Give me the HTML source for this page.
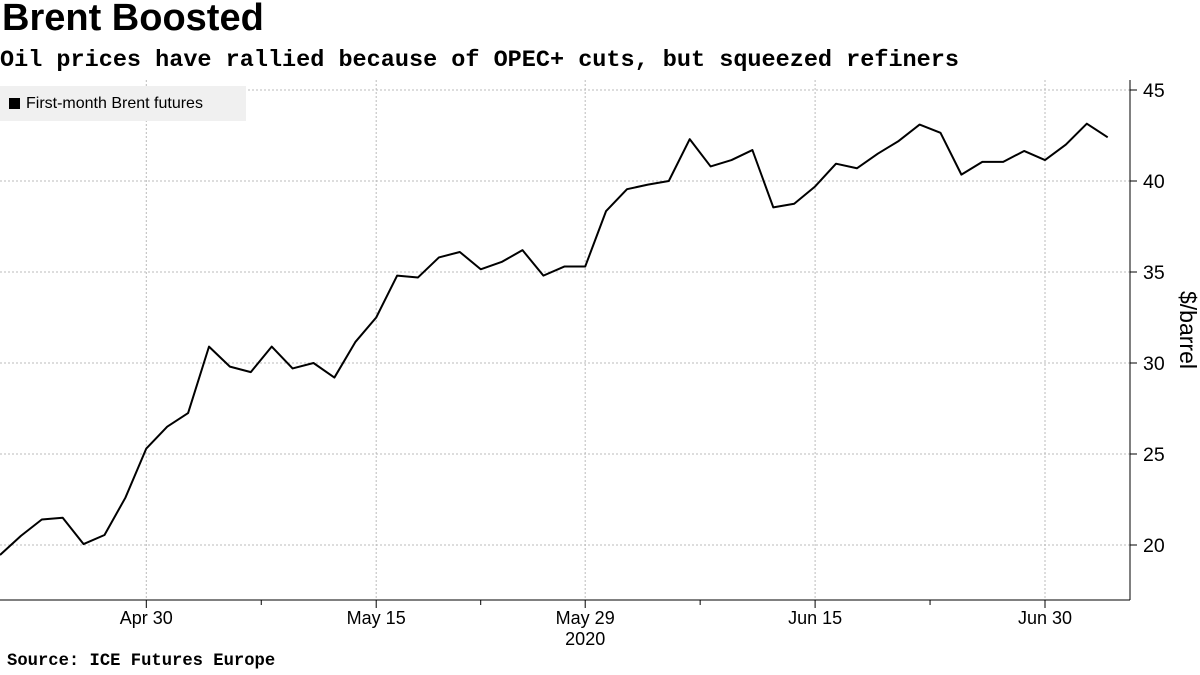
<!DOCTYPE html>
<html><head><meta charset="utf-8"><style>
body{margin:0;background:#fff;width:1200px;height:675px;overflow:hidden;font-family:"Liberation Sans",sans-serif}
#t{position:absolute;left:2px;top:-3px;font-size:38px;font-weight:bold;color:#000}
#s{position:absolute;left:0px;top:47px;font-family:"Liberation Mono",monospace;font-size:23.5px;font-weight:bold}
#src{position:absolute;left:7px;top:652px;font-family:"Liberation Mono",monospace;font-size:17.2px;font-weight:bold}
#leg{position:absolute;left:0;top:86px;width:246px;height:35px;background:#f0f0f0;font-size:16px;line-height:35px}
#leg span.sq{display:inline-block;width:11px;height:11px;background:#000;margin:0 6px 0 9px;vertical-align:-1px}
</style></head><body>
<div id="t">Brent Boosted</div>
<div id="s">Oil prices have rallied because of OPEC+ cuts, but squeezed refiners</div>
<svg id="c" width="1200" height="675" style="position:absolute;left:0;top:0"></svg>
<div id="leg"><span class="sq"></span>First-month Brent futures</div>
<div id="src">Source: ICE Futures Europe</div>
<script>
const prices=[19.45,20.5,21.4,21.5,20.05,20.55,22.6,25.3,26.5,27.25,30.9,29.8,29.5,30.9,29.7,30.0,29.2,31.15,32.5,34.8,34.7,35.8,36.1,35.15,35.55,36.2,34.8,35.3,35.3,38.35,39.55,39.8,40.0,42.3,40.8,41.15,41.7,38.55,38.75,39.7,40.95,40.7,41.5,42.2,43.1,42.65,40.35,41.05,41.05,41.65,41.15,42.0,43.15,42.4];
const yTicks=[20,25,30,35,40,45];
const xTickIdx=[7,18,28,39,50];
const xTickLabels=["Apr 30","May 15","May 29","Jun 15","Jun 30"];
const minorIdx=[12.5,23,33.5,44.5];
const NS="http://www.w3.org/2000/svg";
const svg=document.getElementById('c');
const X=i=>i*20.9;
const Y=v=>545-(v-20)*18.2;
function mk(tag,attrs){const e=document.createElementNS(NS,tag);for(const k in attrs)e.setAttribute(k,attrs[k]);svg.appendChild(e);return e;}
yTicks.forEach(v=>{
 const g=mk('line',{x1:0,x2:1130,y1:Y(v),y2:Y(v),stroke:'#bbb','stroke-dasharray':'2,2'});
 
 
 const tk=mk('line',{x1:1130,x2:1137,y1:Y(v),y2:Y(v),stroke:'#000'});
 
 
 const t=mk('text',{x:1143,y:Y(v)+7,'font-size':19.5,fill:'#000'});t.textContent=v;
 
 
});
xTickIdx.forEach((i,k)=>{
 const g=mk('line',{x1:X(i),x2:X(i),y1:80,y2:600,stroke:'#bbb','stroke-dasharray':'2,2'});
 
 
 const tk=mk('line',{x1:X(i),x2:X(i),y1:600,y2:608,stroke:'#000'});
 
 
 const t=mk('text',{x:X(i),y:624,'font-size':18,'text-anchor':'middle'});t.textContent=xTickLabels[k];
 
 
});
minorIdx.forEach(i=>{
 const tk=mk('line',{x1:X(i),x2:X(i),y1:600,y2:605,stroke:'#000'});
 
 
});
const ax=mk('line',{x1:0,x2:1130,y1:600,y2:600,stroke:'#000'});


const ay=mk('line',{x1:1130,x2:1130,y1:80,y2:600,stroke:'#000'});


const yr=mk('text',{x:X(28),y:645,'font-size':18,'text-anchor':'middle'});yr.textContent='2020';


const yl=mk('text',{x:1180,y:330,'font-size':23,'text-anchor':'middle',transform:'rotate(90 1180 330)'});yl.textContent='$/barrel';


const ln=mk('polyline',{points:prices.map((v,i)=>X(i)+','+Y(v)).join(' '),fill:'none',stroke:'#000','stroke-width':2,'stroke-linejoin':'round'});


</script>
</body></html>
